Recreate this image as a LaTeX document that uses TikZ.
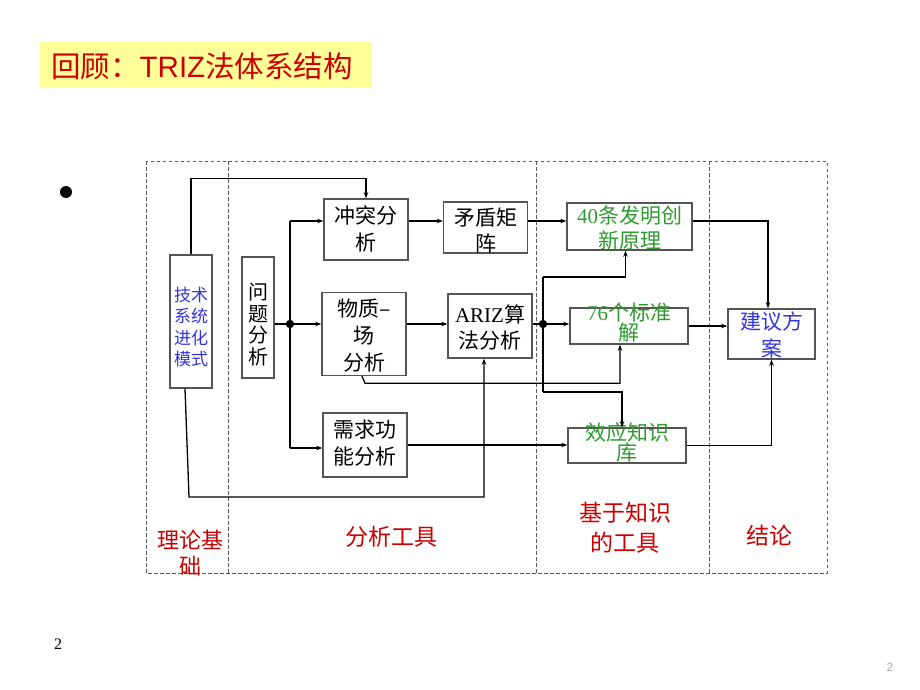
\documentclass[tikz,border=0pt]{standalone}
\usepackage{fontspec}
\setmainfont{Liberation Serif}
\newfontfamily\cjk{Noto Sans CJK SC}
\newfontfamily\lsans{Liberation Sans}
\usetikzlibrary{arrows.meta}
\definecolor{tred}{HTML}{CC0000}
\definecolor{tyellow}{HTML}{FFFF99}
\definecolor{tblue}{HTML}{3333DD}
\definecolor{tgreen}{HTML}{2E9A2E}
\definecolor{boxgray}{HTML}{555555}
\definecolor{framegray}{HTML}{5A5A5A}
\begin{document}
\begin{tikzpicture}[x=1pt,y=-1pt,
  box/.style={draw=boxgray,line width=1.4pt,inner sep=0pt},
  txt/.style={font=\cjk\fontsize{21}{27}\selectfont,align=center,inner sep=0pt},
  conn/.style={line width=1.3pt,-{Stealth[length=6pt,width=4.5pt]}},
  plain/.style={line width=1.3pt},
  frame/.style={draw=framegray,line width=1pt,dash pattern=on 3.5pt off 2.5pt},
  lab/.style={font=\cjk\fontsize{23}{29}\selectfont,text=tred,align=center,inner sep=0pt}]
\useasboundingbox (0,0) rectangle (920,690);

% title
\node[fill=tyellow,minimum width=332pt,minimum height=46pt,inner sep=0pt,anchor=north west] (title) at (40,42) {};
\node[anchor=west,inner sep=0pt,text=tred,font=\cjk\fontsize{29.5}{31}\selectfont] (titletext) at (51,66) {回顾：{\lsans TRIZ}法体系结构};

% bullet and page numbers
\node[circle,fill=black,minimum size=12pt,inner sep=0pt] (bullet) at (66,192) {};
\node[inner sep=0pt,font=\fontsize{16}{16}\selectfont] (pn1) at (58,644) {2};
\node[inner sep=0pt,text=black!35,font=\lsans\fontsize{12}{12}\selectfont] (pn2) at (890,667) {2};

% dashed frame
\draw[frame] (146,161) rectangle (827,573);
\draw[frame] (228,161) -- (228,573);
\draw[frame] (536,161) -- (536,573);
\draw[frame] (709,161) -- (709,573);

% boxes
\node[box,minimum width=42pt,minimum height=133pt] (evo) at (191,321.5) {};
\node[box,minimum width=32pt,minimum height=121pt] (wt) at (258,317.5) {};
\node[box,minimum width=84pt,minimum height=61pt] (ct) at (366,229.5) {};
\node[box,minimum width=84pt,minimum height=51pt] (mm) at (485.5,227.5) {};
\node[box,minimum width=84pt,minimum height=83pt] (wz) at (364,334) {};
\node[box,minimum width=84pt,minimum height=64pt] (ariz) at (490,326) {};
\node[box,minimum width=84pt,minimum height=64pt] (xq) at (365,445) {};
\node[box,minimum width=125pt,minimum height=47pt] (p40) at (629.5,226.5) {};
\node[box,minimum width=118pt,minimum height=36pt] (p76) at (629,326) {};
\node[box,minimum width=118pt,minimum height=35pt] (xy) at (627,445.5) {};
\node[box,minimum width=87pt,minimum height=50pt] (jy) at (771.5,334) {};

% box texts
\node[txt,text=tblue,font=\cjk\fontsize{17}{21.5}\selectfont] (tevo) at (191,327) {技术\\系统\\进化\\模式};
\node[txt,font=\cjk\fontsize{20}{21.5}\selectfont] (twt) at (258,324.5) {问\\题\\分\\析};
\node[txt] (tct) at (366,228.5) {冲突分\\析};
\node[txt,font=\cjk\fontsize{21}{26}\selectfont] (tmm) at (485.5,231) {矛盾矩\\阵};
\node[txt] (twz) at (364,336) {物质–\\场\\分析};
\node[txt,font=\cjk\fontsize{21}{26}\selectfont] (tariz) at (490,327) {{\rmfamily ARIZ}算\\法分析};
\node[txt] (txq) at (365,443.5) {需求功\\能分析};
\node[txt,text=tgreen,font=\cjk\fontsize{21}{25}\selectfont] (tp40) at (629.5,227.5) {{\rmfamily 40}条发明创\\新原理};
\node[txt,text=tgreen,font=\cjk\fontsize{21}{19}\selectfont] (tp76) at (629,322.5) {{\rmfamily 76}个标准\\解};
\node[txt,text=tgreen,font=\cjk\fontsize{21}{20}\selectfont] (txy) at (627,442) {效应知识\\库};
\node[txt,text=tblue] (tjy) at (771.5,334.5) {建议方\\案};

% column labels
\node[lab,font=\cjk\fontsize{22}{26}\selectfont] (l1) at (190,553) {理论基\\础};
\node[lab] (l2) at (391,537) {分析工具};
\node[lab,font=\cjk\fontsize{23}{30}\selectfont] (l3) at (625,528) {基于知识\\的工具};
\node[lab] (l4) at (769,536) {结论};

% junction coordinates
\coordinate (jl) at (290,324);
\coordinate (jt) at (290,221);
\coordinate (jb) at (290,448);
\coordinate (jr) at (543,324);
\coordinate (jrt) at (543,277);
\coordinate (jrb) at (543,392);
\coordinate (eb) at (189,497);

% connectors: left part
\draw[conn] (evo.north) -- ++(0,-76) -| (ct.north);
\draw[conn] ([xshift=-6pt]evo.south) -- (eb) -| ([xshift=-6pt]ariz.south);
\draw[plain] (wt.east |- jl) -- (jl);
\draw[plain] (jt) -- (jb);
\draw[conn] (jl) -- (jl -| wz.west);
\draw[conn] (jt) -- (jt -| ct.west);
\draw[conn] (jb) -- (jb -| xq.west);
\fill (jl) circle (4.2);

\draw[conn] (ct.east |- jt) -- (mm.west |- jt);
\draw[conn] (mm.east |- jt) -- (p40.west |- jt);
\draw[conn] (wz.east |- jl) -- (ariz.west |- jl);

% connectors: ARIZ junction
\draw[plain] (ariz.east |- jr) -- (jr);
\draw[conn] (jr) -- (jr -| p76.west);
\draw[plain] (jrt) -- (jrb);
\draw[conn] (jrt) -| ([xshift=-4pt]p40.south);
\draw[conn] (jrb) -| ([xshift=-5pt]xy.north);
\fill (jr) circle (4.2);

\draw[conn] ([xshift=-2pt]wz.south) -- ++(3,7) -| ([xshift=-9pt]p76.south);
\draw[conn] (xq.east) -- (xq.east -| xy.west);

% connectors: conclusion
\draw[conn] (p40.east |- jt) -| ([xshift=-3.5pt]jy.north);
\draw[conn] (p76.east) -- (p76.east -| jy.west);
\draw[conn] (xy.east) -| (jy.south);
\end{tikzpicture}
\end{document}
